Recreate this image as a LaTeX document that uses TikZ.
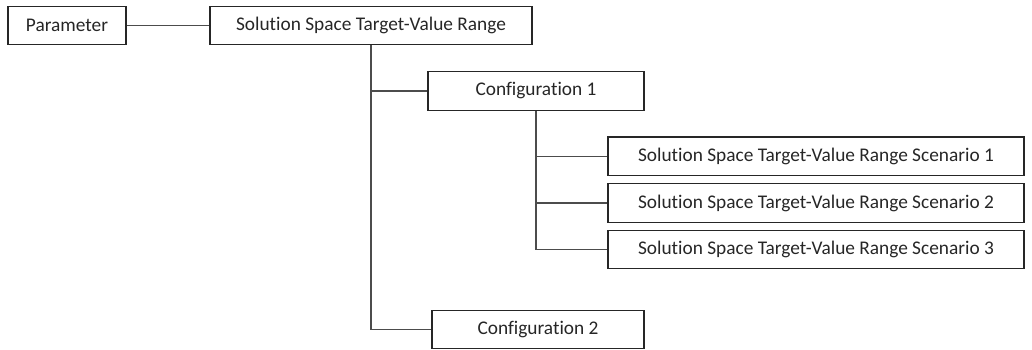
\documentclass[tikz,border=0pt]{standalone}
\usepackage{fontspec}
\setmainfont[Ligatures=NoCommon]{Carlito}
\tikzset{
  box/.style={draw=black!85,line width=0.7pt,minimum height=0.77cm,inner sep=0pt,text=black!85,font=\fontsize{11}{13}\selectfont},
  link/.style={draw=black!70,line width=0.8pt}
}
\begin{document}
\begin{tikzpicture}
    \useasboundingbox (0,0) rectangle (20.64,-6.98);
    \node[box,minimum width=2.36cm] (param) at (1.34,-0.51) {Parameter};
    \node[box,minimum width=6.44cm] (range) at (7.42,-0.51) {Solution Space Target-Value Range};
    \node[box,minimum width=4.32cm] (config1) at (10.72,-1.82) {Configuration 1};
    \node[box,minimum width=4.24cm] (config2) at (10.76,-6.59) {Configuration 2};
    \foreach \i/\y in {1/-3.125,2/-4.06,3/-4.99}
        \node[box,minimum width=8.32cm] (scen\i) at (16.32,\y) {Solution Space Target-Value Range Scenario \i};
    \draw[link] (param.east) -- (range.west);
    \draw[link] (range.south) |- (config2.west);
    \draw[link] (range.south |- config1.west) -- (config1.west);
    \draw[link] (config1.south) |- (scen3.west);
    \draw[link] (config1.south |- scen1.west) -- (scen1.west);
    \draw[link] (config1.south |- scen2.west) -- (scen2.west);
\end{tikzpicture}
\end{document}
